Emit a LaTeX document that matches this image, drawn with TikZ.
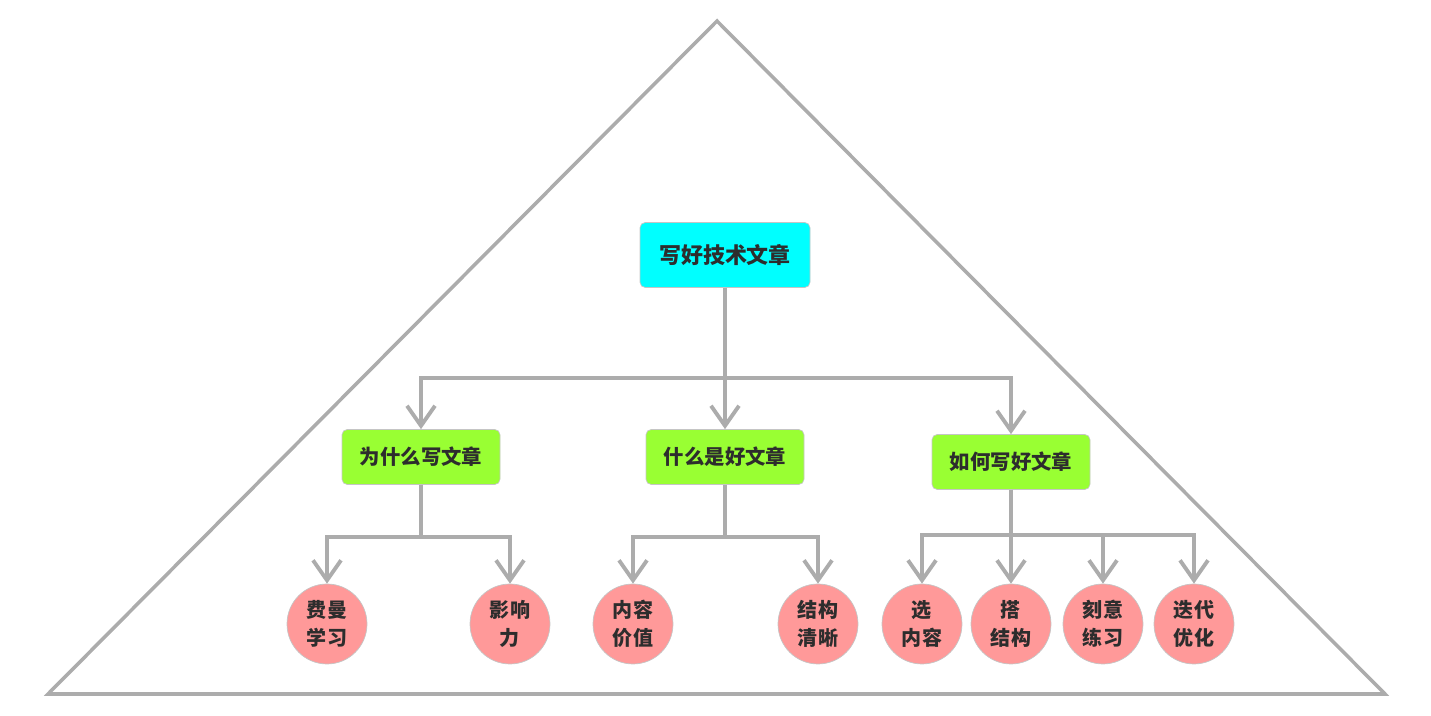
\documentclass[tikz,border=0pt]{standalone}
\usepackage{fontspec}
\newfontfamily\cjk{Noto Sans CJK SC}
\usepackage{tikz}
\usetikzlibrary{arrows.meta, positioning}
\usepackage{xcolor}
\definecolor{rootcol}{RGB}{0,255,255}
\definecolor{midcol}{RGB}{153,255,51}
\definecolor{leafcol}{RGB}{255,153,153}
\definecolor{linecol}{RGB}{172,172,172}
\definecolor{inkcol}{RGB}{45,45,45}
\tikzstyle{topic} = [rectangle, rounded corners=3pt, minimum width=3.4cm, minimum height=1.3cm, text centered, draw=linecol!70, line width=0.4pt, fill=rootcol, text=inkcol, font=\cjk\bfseries\fontsize{12.5}{15}\selectfont]
\tikzstyle{subtopic} = [rectangle, rounded corners=3pt, minimum width=3.16cm, minimum height=1.1cm, text centered, draw=linecol!70, line width=0.4pt, fill=midcol, text=inkcol, font=\cjk\bfseries\fontsize{11.6}{14}\selectfont]
\tikzstyle{leaf} = [circle, minimum size=1.6cm, inner sep=0pt, align=center, draw=linecol!70, line width=0.4pt, fill=leafcol, text=inkcol, font=\cjk\bfseries\fontsize{11.4}{15.9}\selectfont]
\tikzstyle{arrow} = [draw=linecol, line width=2.2pt, -{Straight Barb[length=0.4cm, width=0.56cm]}]
\tikzstyle{frame} = [draw=linecol, line width=2pt, line join=miter]

\begin{document}
\begin{tikzpicture}[node distance=4cm]
\useasboundingbox (0,0) rectangle (28.62,14.32);

% Outer pyramid
\draw [frame] (0.96,0.44) -- (14.34,13.9) -- (27.7,0.44) -- cycle;

% Root topic
\node (root) [topic] at (14.5,9.22) {写好技术文章};

% Second level
\node (what) [subtopic, below of=root, yshift=-0.04cm] {什么是好文章};
\node (why) [subtopic, left of=what, xshift=-2.08cm] {为什么写文章};
\node (how) [subtopic, right of=what, xshift=1.72cm, yshift=-0.1cm] {如何写好文章};

% Leaves
\node (feynman) [leaf, below of=why, xshift=-1.88cm, yshift=0.66cm] {费曼\\学习};
\node (impact) [leaf, below of=why, xshift=1.78cm, yshift=0.66cm] {影响\\力};
\node (value) [leaf, below of=what, xshift=-1.84cm, yshift=0.66cm] {内容\\价值};
\node (clear) [leaf, below of=what, xshift=1.86cm, yshift=0.66cm] {结构\\清晰};
\node (pick) [leaf, below of=how, xshift=-1.78cm, yshift=0.76cm] {选\\内容};
\node (build) [leaf, below of=how, yshift=0.76cm] {搭\\结构};
\node (practice) [leaf, below of=how, xshift=1.84cm, yshift=0.76cm] {刻意\\练习};
\node (iterate) [leaf, below of=how, xshift=3.66cm, yshift=0.76cm] {迭代\\优化};

% Root to second level
\draw [arrow] (root.south) -- ++(0,-1.81) -| (why.north);
\draw [arrow] (root.south) -- ++(0,-1.81) -| (how.north);
\draw [arrow] (root.south) -- (what.north);

% Second level to leaves
\draw [arrow] (why.south) -- ++(0,-1.05) -| (feynman.north);
\draw [arrow] (why.south) -- ++(0,-1.05) -| (impact.north);
\draw [arrow] (what.south) -- ++(0,-1.05) -| (value.north);
\draw [arrow] (what.south) -- ++(0,-1.05) -| (clear.north);
\draw [arrow] (how.south) -- ++(0,-0.91) -| (pick.north);
\draw [arrow] (how.south) -- ++(0,-0.91) -| (practice.north);
\draw [arrow] (how.south) -- ++(0,-0.91) -| (iterate.north);
\draw [arrow] (how.south) -- (build.north);

\end{tikzpicture}
\end{document}
